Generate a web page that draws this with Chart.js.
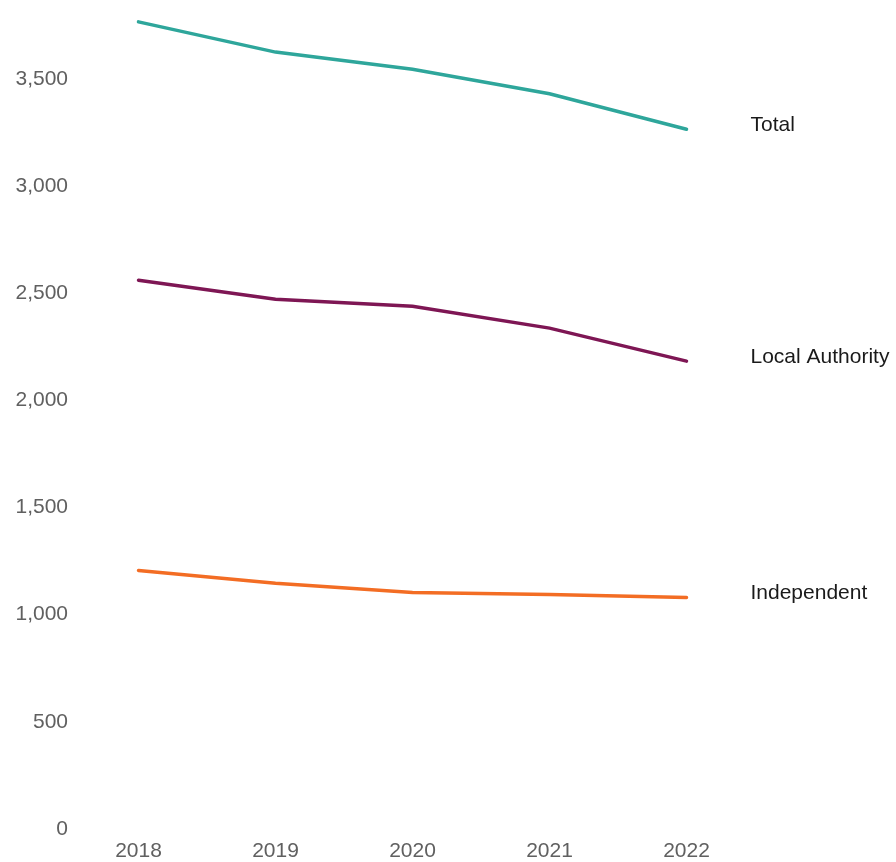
<!DOCTYPE html>
<html>
<head>
<meta charset="utf-8">
<script src="https://cdn.jsdelivr.net/npm/chart.js@4"></script>
<style>
  html, body { margin: 0; padding: 0; background: #fff; }
  #wrap { width: 896px; height: 862px; }
</style>
</head>
<body>
<div id="wrap"><canvas id="linechart"></canvas></div>
<script>
// years and series
const years = ['2018', '2019', '2020', '2021', '2022'];
const total = [3766, 3625, 3545, 3431, 3265];
const localAuthority = [2560, 2472, 2439, 2337, 2183];
const independent = [1206, 1147, 1104, 1094, 1080];
const seriesNames = ['Total', 'Local Authority', 'Independent'];
const yTicks = [0, 500, 1000, 1500, 2000, 2500, 3000, 3500];

// labels drawn at the end of each line
const endLabels = {
  id: 'endLabels',
  afterDatasetsDraw(chart) {
    const ctx = chart.ctx;
    const x = chart.scales.x;
    const y = chart.scales.y;
    ctx.save();
    ctx.font = '21px "Liberation Sans", Arial, sans-serif';
    ctx.fillStyle = '#1a1a1a';
    ctx.textBaseline = 'middle';
    chart.data.datasets.forEach(function(ds) {
      const last = ds.data.length - 1;
      const px = x.getPixelForValue(last) + 64;
      const py = y.getPixelForValue(ds.data[last]) - 4;
      ctx.fillText(ds.label, px, py);
    });
    ctx.restore();
  }
};

let ctx = document.getElementById('linechart').getContext('2d');

new Chart(ctx, {
  type: 'line',
  data: {
    labels: years,
    datasets: [{
      label: seriesNames[0],
      data: total,
      borderColor: '#2ea69b'
    }, {
      label: seriesNames[1],
      data: localAuthority,
      borderColor: '#7e1654'
    }, {
      label: seriesNames[2],
      data: independent,
      borderColor: '#f36d24'
    }]
  },
  options: {
    responsive: true,
    maintainAspectRatio: false,
    animation: false,
    layout: {
      padding: { top: 12, right: 141, left: 0, bottom: 0 }
    },
    elements: {
      line: { borderWidth: 3.5, tension: 0, borderCapStyle: 'round' },
      point: { radius: 0 }
    },
    plugins: {
      legend: { display: false },
      tooltip: { enabled: false }
    },
    scales: {
      x: {
        offset: true,
        grid: { display: false, drawTicks: false },
        border: { display: false },
        ticks: {
          padding: 10,
          color: '#606060',
          font: { family: '"Liberation Sans", Arial, sans-serif', size: 21 }
        },
        afterFit(scale) { scale.height = 33; }
      },
      y: {
        min: 0,
        max: 3800,
        grid: { display: false, drawTicks: false },
        border: { display: false },
        afterBuildTicks(scale) {
          scale.ticks = yTicks.map(function(v) { return { value: v }; });
        },
        ticks: {
          padding: 2,
          color: '#606060',
          font: { family: '"Liberation Sans", Arial, sans-serif', size: 21 },
          callback: function(v) { return v.toLocaleString('en-GB'); }
        },
        afterFit(scale) { scale.width = 70; }
      }
    }
  },
  plugins: [endLabels]
});
</script>
</body>
</html>
